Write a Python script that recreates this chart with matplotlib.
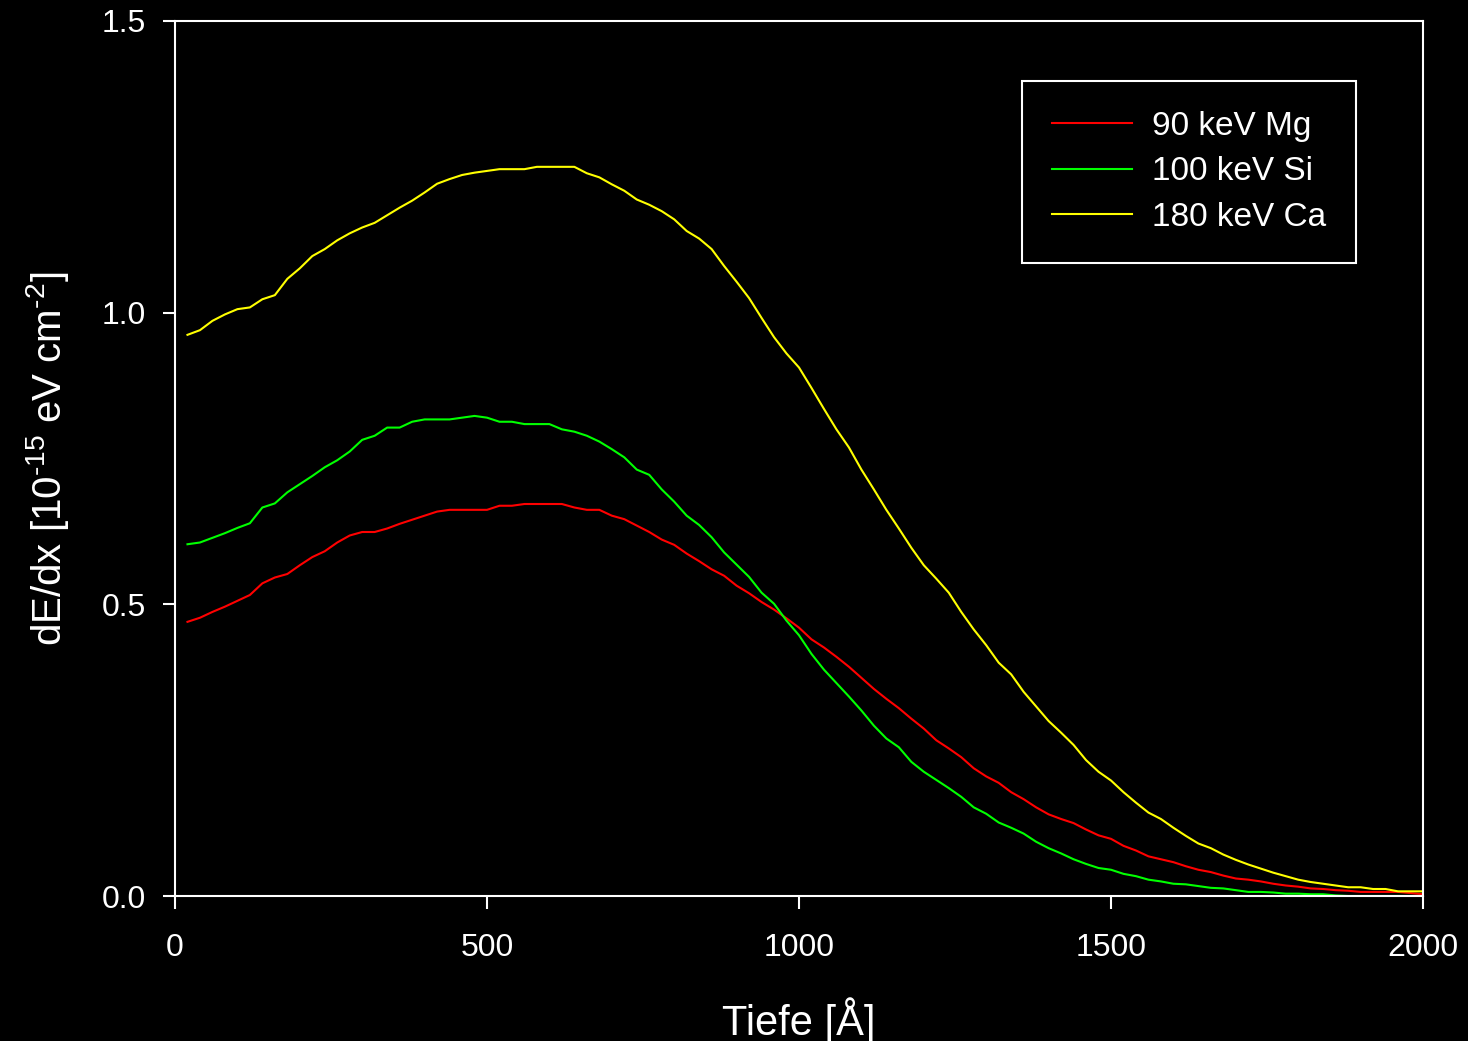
import matplotlib
matplotlib.use("Agg")
import matplotlib.pyplot as plt

plt.rcParams['font.family'] = ['Liberation Sans', 'DejaVu Sans']
plt.rcParams['mathtext.fontset'] = 'custom'
plt.rcParams['mathtext.rm'] = 'Liberation Sans'
plt.rcParams['mathtext.default'] = 'regular'

depth = [20, 40, 60, 80, 100, 120, 140, 160, 180, 200,
         220, 240, 260, 280, 300, 320, 340, 360, 380, 400,
         420, 440, 460, 480, 500, 520, 540, 560, 580, 600,
         620, 640, 660, 680, 700, 720, 740, 760, 780, 800,
         820, 840, 860, 880, 900, 920, 940, 960, 980, 1000,
         1020, 1040, 1060, 1080, 1100, 1120, 1140, 1160, 1180, 1200,
         1220, 1240, 1260, 1280, 1300, 1320, 1340, 1360, 1380, 1400,
         1420, 1440, 1460, 1480, 1500, 1520, 1540, 1560, 1580, 1600,
         1620, 1640, 1660, 1680, 1700, 1720, 1740, 1760, 1780, 1800,
         1820, 1840, 1860, 1880, 1900, 1920, 1940, 1960, 1980, 2000]

mg_90kev = [0.470, 0.477, 0.487, 0.496, 0.506, 0.516, 0.536, 0.546, 0.552, 0.567,
            0.581, 0.591, 0.606, 0.618, 0.624, 0.624, 0.630, 0.638, 0.645, 0.652,
            0.659, 0.662, 0.662, 0.662, 0.662, 0.669, 0.669, 0.672, 0.672, 0.672,
            0.672, 0.666, 0.662, 0.662, 0.652, 0.646, 0.635, 0.624, 0.611, 0.602,
            0.587, 0.574, 0.560, 0.549, 0.532, 0.519, 0.504, 0.491, 0.476, 0.460,
            0.440, 0.426, 0.410, 0.393, 0.374, 0.355, 0.338, 0.322, 0.304, 0.287,
            0.267, 0.253, 0.238, 0.219, 0.205, 0.194, 0.178, 0.166, 0.152, 0.140,
            0.132, 0.125, 0.114, 0.104, 0.098, 0.086, 0.078, 0.068, 0.063, 0.058,
            0.051, 0.045, 0.041, 0.035, 0.030, 0.028, 0.025, 0.021, 0.018, 0.016,
            0.013, 0.012, 0.010, 0.009, 0.007, 0.007, 0.007, 0.007, 0.005, 0.003]

si_100kev = [0.603, 0.606, 0.614, 0.622, 0.631, 0.639, 0.666, 0.673, 0.692, 0.706,
             0.720, 0.735, 0.747, 0.762, 0.782, 0.789, 0.803, 0.803, 0.813, 0.817,
             0.817, 0.817, 0.820, 0.823, 0.820, 0.813, 0.813, 0.809, 0.809, 0.809,
             0.800, 0.796, 0.789, 0.779, 0.766, 0.752, 0.731, 0.722, 0.697, 0.676,
             0.652, 0.636, 0.615, 0.589, 0.568, 0.547, 0.520, 0.501, 0.472, 0.447,
             0.415, 0.388, 0.365, 0.342, 0.318, 0.292, 0.270, 0.255, 0.230, 0.213,
             0.199, 0.185, 0.170, 0.152, 0.141, 0.126, 0.117, 0.107, 0.093, 0.082,
             0.073, 0.063, 0.055, 0.048, 0.045, 0.038, 0.034, 0.028, 0.025, 0.021,
             0.020, 0.017, 0.014, 0.013, 0.010, 0.007, 0.007, 0.006, 0.004, 0.004,
             0.003, 0.003, 0.001, 0.000, 0.000, 0.000, 0.000, 0.000, 0.000, 0.000]

ca_180kev = [0.962, 0.970, 0.986, 0.997, 1.006, 1.009, 1.023, 1.030, 1.058, 1.076,
             1.097, 1.109, 1.124, 1.136, 1.146, 1.154, 1.167, 1.180, 1.192, 1.206,
             1.221, 1.229, 1.236, 1.240, 1.243, 1.246, 1.246, 1.246, 1.250, 1.250,
             1.250, 1.250, 1.239, 1.232, 1.220, 1.209, 1.194, 1.185, 1.174, 1.160,
             1.140, 1.127, 1.109, 1.080, 1.053, 1.025, 0.991, 0.958, 0.930, 0.906,
             0.871, 0.835, 0.800, 0.769, 0.731, 0.697, 0.662, 0.630, 0.597, 0.567,
             0.544, 0.520, 0.487, 0.457, 0.430, 0.400, 0.380, 0.350, 0.325, 0.300,
             0.280, 0.259, 0.233, 0.213, 0.198, 0.178, 0.160, 0.143, 0.132, 0.117,
             0.103, 0.090, 0.082, 0.071, 0.062, 0.054, 0.047, 0.040, 0.034, 0.028,
             0.024, 0.021, 0.018, 0.015, 0.015, 0.012, 0.012, 0.008, 0.008, 0.008]

labels = ['90 keV Mg', '100 keV Si', '180 keV Ca']
colors = ['#ff0000', '#00ff00', '#ffff00']
xticks = [0, 500, 1000, 1500, 2000]
yticks = [0.0, 0.5, 1.0, 1.5]

fig = plt.figure(figsize=(14.68, 10.41), dpi=100, facecolor='black')
ax = fig.add_axes([175 / 1468, 1 - 896 / 1041, (1423 - 175) / 1468, (896 - 21) / 1041])
ax.set_facecolor('black')

for series, lab, col in zip([mg_90kev, si_100kev, ca_180kev], labels, colors):
    ax.plot(depth, series, color=col, lw=1.5, label=lab)

ax.set_xlim(0, 2000)
ax.set_ylim(0, 1.5)
ax.set_xticks(xticks)
ax.set_xticklabels([str(t) for t in xticks])
ax.set_yticks(yticks)
ax.set_yticklabels(['%.1f' % t for t in yticks])

for sp in ax.spines.values():
    sp.set_color('white')
    sp.set_linewidth(1.5)

ax.tick_params(axis='both', colors='white', direction='out', length=9, width=1.5,
               labelsize=23, labelcolor='white')
ax.tick_params(axis='x', pad=18)
ax.tick_params(axis='y', pad=12)

ax.set_xlabel('Tiefe [Å]', color='white', fontsize=30, labelpad=24)
ax.set_ylabel(r'dE/dx [10$^{\text{-15}}$ eV cm$^{\text{-2}}$]', color='white',
              fontsize=29, labelpad=22)

leg = ax.legend(loc='upper right', bbox_to_anchor=(1356 / 1468, 1 - 81 / 1041),
                bbox_transform=fig.transFigure, fontsize=24, frameon=True,
                fancybox=False, facecolor='black', edgecolor='white',
                handlelength=2.4, handletextpad=0.6, borderpad=0.9,
                labelspacing=0.43, borderaxespad=0)
leg.get_frame().set_linewidth(1.5)
leg.get_frame().set_alpha(1)
for t in leg.get_texts():
    t.set_color('white')

fig.savefig('out.png', dpi=100, facecolor='black')
